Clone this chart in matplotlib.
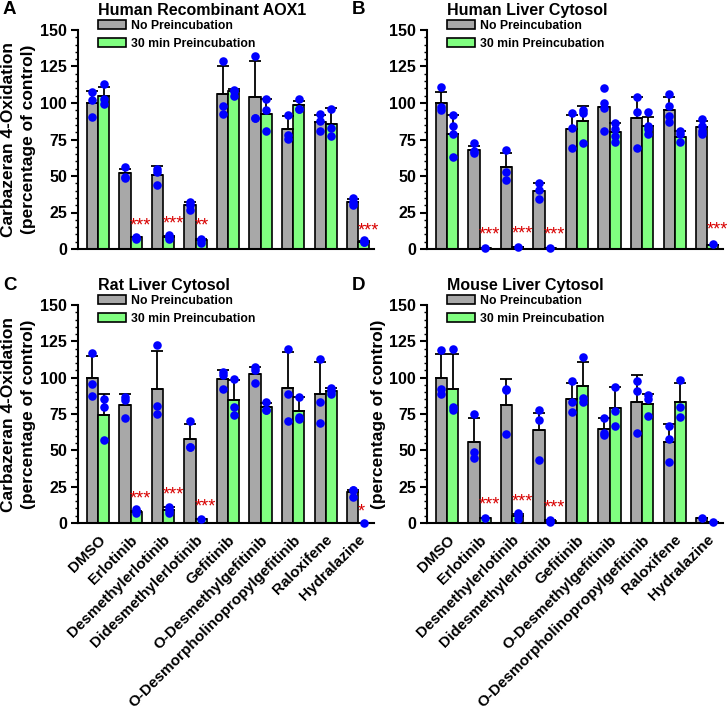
import matplotlib
matplotlib.use("Agg")
import matplotlib.pyplot as plt
from matplotlib.patches import Patch
from matplotlib.ticker import MultipleLocator

plt.rcParams['font.family'] = ['Liberation Sans', 'DejaVu Sans']
plt.rcParams['font.weight'] = 'bold'

compounds = ["DMSO", "Erlotinib", "Desmethylerlotinib", "Didesmethylerlotinib",
             "Gefitinib", "O-Desmethylgefitinib", "O-Desmorpholinopropylgefitinib",
             "Raloxifene", "Hydralazine"]
legend_labels = ["No Preincubation", "30 min Preincubation"]

# A - Human Recombinant AOX1
aox1_none = [100, 52, 51, 30, 106, 104, 82, 87, 32.5]
aox1_none_sd = [8, 3, 6, 2, 19, 25, 9, 5, 2]
aox1_pre = [105, 8, 8.5, 6, 108, 92.5, 98.5, 85.5, 5]
aox1_pre_sd = [6, 0.5, 0.5, 1, 1.5, 10, 3, 11, 0.5]
aox1_none_pts = [[107.5, 102, 90.5], [56, 49.5, 48.5], [55, 52.5, 44], [32, 30, 27],
                 [128.5, 98, 92.5], [132, 90, 90], [91.5, 78, 75.5], [92.5, 87.5, 81], [35, 32, 30]]
aox1_pre_pts = [[113, 102.5, 99], [8, 7.5, 7], [9.5, 8, 7], [7, 6, 4],
                [109, 108, 105], [102.5, 95, 80.5], [102.5, 96, 96], [96, 83, 77.5], [6, 5, 5]]
aox1_stars = [(1, "***", 20), (2, "***", 21), (3, "**", 20), (8, "***", 16)]

# B - Human Liver Cytosol
hlc_none = [100, 68, 56, 40, 82, 97, 90, 95.5, 83.5]
hlc_none_sd = [7.5, 2.5, 10, 5, 9.5, 0, 14, 8.5, 4]
hlc_pre = [79, 1, 1.5, 0.5, 87.5, 80, 84.5, 77, 3]
hlc_pre_sd = [12.5, 0, 0, 0, 10.5, 6, 6, 3.5, 0]
hlc_none_pts = [[111, 97.5, 95], [72.5, 67, 65.5], [68, 53, 47.5], [45.5, 40.5, 34.5],
                [93, 83, 69.5], [110.5, 100, 96.5, 80.5], [104, 94, 69], [106.5, 98, 91, 87],
                [89, 84.5, 81, 78.5]]
hlc_pre_pts = [[92, 84, 78.5, 63], [1], [1.5], [0.5],
               [95.5, 93, 72.5], [86, 82, 77.5, 73.5], [93.5, 84, 82, 79], [81, 78.5, 73.5], [3.5]]
hlc_stars = [(1, "***", 13.5), (2, "***", 14), (3, "***", 13.5), (8, "***", 17)]

# C - Rat Liver Cytosol
rat_none = [100, 81, 92.5, 58, 99, 102.5, 93, 88.5, 21.5]
rat_none_sd = [15, 7.5, 26, 10, 6, 5, 25, 22.5, 1.5]
rat_pre = [74, 7.5, 9, 2.5, 84.5, 79.5, 77, 90.5, 0]
rat_pre_sd = [15, 1, 2, 0, 14, 3, 10, 2.5, 0]
rat_none_pts = [[117, 95.5, 87.5], [87, 84.5, 72], [122.5, 80.5, 75], [70, 52, 52],
                [104, 102, 92.5], [107, 105, 96.5], [120, 88.5, 70], [113, 83.5, 69], [23, 22.5, 18]]
rat_pre_pts = [[85, 80, 57], [9.5, 8, 7], [11, 9, 7], [2.5],
               [99, 80, 74], [83.5, 78, 78], [87, 73, 71.5], [93, 91, 89], [0.2]]
rat_stars = [(1, "***", 20.5), (2, "***", 23.5), (3, "***", 15), (8, "*", 11.5)]

# D - Mouse Liver Cytosol
mouse_none = [100, 56, 81.5, 64, 85.5, 65, 83.5, 55.5, 3.2]
mouse_none_sd = [16.5, 16.5, 17.5, 11.5, 10.5, 7.5, 18.5, 12.5, 0]
mouse_pre = [92.5, 3.5, 5, 1.5, 94.5, 79, 82, 83.5, 0.5]
mouse_pre_sd = [23.5, 0, 1.5, 0.5, 16.5, 14.5, 7, 13, 0]
mouse_none_pts = [[119, 92.5, 89], [75, 49, 45], [92, 91.5, 61], [77.5, 71, 43.5],
                  [97.5, 83, 76.5], [72.5, 62, 60.5], [98, 91, 62], [66.5, 58, 42], [3.5]]
mouse_pre_pts = [[119.5, 80, 78], [3.2], [7, 5.5, 3], [2.3, 0.7],
                 [114, 86, 83.5], [93.5, 77, 67], [88, 85, 73.5], [98.5, 79.5, 73], [0.5]]
mouse_stars = [(1, "***", 16.5), (2, "***", 18.5), (3, "***", 14.5)]

panels = [
    ("A", "Human Recombinant AOX1", aox1_none, aox1_none_sd, aox1_pre, aox1_pre_sd,
     aox1_none_pts, aox1_pre_pts, aox1_stars),
    ("B", "Human Liver Cytosol", hlc_none, hlc_none_sd, hlc_pre, hlc_pre_sd,
     hlc_none_pts, hlc_pre_pts, hlc_stars),
    ("C", "Rat Liver Cytosol", rat_none, rat_none_sd, rat_pre, rat_pre_sd,
     rat_none_pts, rat_pre_pts, rat_stars),
    ("D", "Mouse Liver Cytosol", mouse_none, mouse_none_sd, mouse_pre, mouse_pre_sd,
     mouse_none_pts, mouse_pre_pts, mouse_stars),
]

gray = "#a8a8a8"
green = "#80ff80"
W, H = 728, 714
fig = plt.figure(figsize=(W / 100, H / 100), dpi=100)

rects = [(78, 249, 219), (427, 249, 219), (78, 523, 218), (427, 523, 218)]
bw = 0.34

for k, (letter, title, none, none_sd, pre, pre_sd, none_pts, pre_pts, stars) in enumerate(panels):
    left, bottom, hgt = rects[k]
    ax = fig.add_axes([left / W, 1 - bottom / H, 296 / W, hgt / H])
    x = list(range(len(compounds)))
    ax.bar([i - bw for i in x], none, width=bw, align='edge', color=gray,
           edgecolor='black', linewidth=1.2, zorder=2)
    ax.bar(x, pre, width=bw, align='edge', color=green,
           edgecolor='black', linewidth=1.2, zorder=2)
    ax.errorbar([i - bw / 2 for i in x], none, yerr=[[0] * len(x), none_sd], fmt='none',
                ecolor='black', elinewidth=1.3, capsize=4, capthick=1.3, zorder=3)
    ax.errorbar([i + bw / 2 for i in x], pre, yerr=[[0] * len(x), pre_sd], fmt='none',
                ecolor='black', elinewidth=1.3, capsize=4, capthick=1.3, zorder=3)
    for i in x:
        ax.scatter([i - bw / 2] * len(none_pts[i]), none_pts[i], s=38, color='#0000ff',
                   zorder=4, clip_on=False, linewidths=0)
        ax.scatter([i + bw / 2] * len(pre_pts[i]), pre_pts[i], s=38, color='#0000ff',
                   zorder=4, clip_on=False, linewidths=0)
    for i, s, yv in stars:
        ax.text(i - 0.02, yv - 7, s, color='#d80000', fontsize=13, ha='left',
                va='baseline', fontweight='normal', clip_on=False)

    ax.set_xlim(-0.615, 8.49)
    ax.set_ylim(0, 150)
    ax.yaxis.set_major_locator(MultipleLocator(25))
    ax.yaxis.set_minor_locator(MultipleLocator(5))
    ax.spines['top'].set_visible(False)
    ax.spines['right'].set_visible(False)
    ax.spines['left'].set_linewidth(1.5)
    ax.spines['bottom'].set_linewidth(1.5)
    ax.tick_params(axis='y', which='major', length=5, width=1.5, labelsize=11.5, pad=3)
    ax.tick_params(axis='y', which='minor', length=2.5, width=1)
    ax.tick_params(axis='x', length=0)
    for lab in ax.get_yticklabels():
        lab.set_fontweight('bold')
    if k >= 2:
        ax.set_xticks(x)
        ax.set_xticklabels(compounds, rotation=45, ha='right', va='top',
                           rotation_mode='anchor', fontsize=11, fontweight='bold')
        ax.tick_params(axis='x', pad=7)
    else:
        ax.set_xticks([])

    ax.text(0.068, 1.09, title, transform=ax.transAxes, fontsize=11.5,
            fontweight='bold', ha='left', va='center')
    fig.text((left - 75) / W, 1 - (bottom - hgt - 20) / H, letter, fontsize=13.5,
             fontweight='bold', ha='left', va='center')

    handles = [Patch(facecolor=gray, edgecolor='black', linewidth=1.2),
               Patch(facecolor=green, edgecolor='black', linewidth=1.2)]
    ax.legend(handles, legend_labels, loc='upper left', bbox_to_anchor=(0.068, 1.045),
              frameon=False, prop={'weight': 'bold', 'size': 8.8},
              handlelength=2.3, handleheight=0.75, handletextpad=0.4,
              labelspacing=0.45, borderpad=0, borderaxespad=0)

    mid = 1 - (bottom - hgt / 2) / H
    if k in (0, 2):
        fig.text((left - 69) / W, mid, "Carbazeran 4-Oxidation", rotation=90,
                 fontsize=12.5, fontweight='bold', ha='center', va='center')
        fig.text((left - 49) / W, mid, "(percentage of control)", rotation=90,
                 fontsize=12.5, fontweight='bold', ha='center', va='center')
    elif k == 3:
        fig.text((left - 49) / W, mid, "(percentage of control)", rotation=90,
                 fontsize=12.5, fontweight='bold', ha='center', va='center')

fig.savefig("out.png", dpi=100)
